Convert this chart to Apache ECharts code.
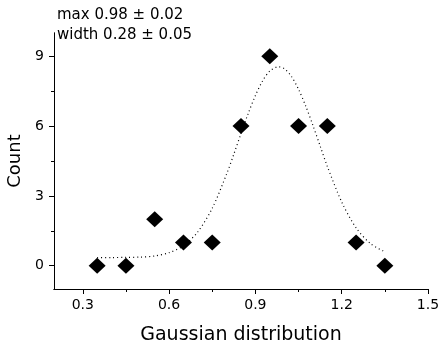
<!DOCTYPE html>
<html>
<head>
<meta charset="utf-8">
<script src="https://cdn.jsdelivr.net/npm/echarts@6/dist/echarts.min.js"></script>
<style>html,body{margin:0;padding:0;background:#fff}#c{width:440px;height:347px}</style>
</head>
<body>
<div id="c"></div>
<script>
// Measured counts
var binCenters = [0.35, 0.45, 0.55, 0.65, 0.75, 0.85, 0.95, 1.05, 1.15, 1.25, 1.35];
var counts = [0, 0, 2, 1, 1, 6, 9, 6, 6, 1, 0];
// Fit curve
var fitX = [0.35, 0.40, 0.45, 0.50, 0.55, 0.60, 0.65, 0.70, 0.75, 0.80, 0.825, 0.85, 0.875, 0.90, 0.925, 0.95, 0.98, 1.00, 1.025, 1.05, 1.075, 1.10, 1.125, 1.15, 1.20, 1.25, 1.30, 1.35];
var fitY = [0.35, 0.35, 0.36, 0.37, 0.42, 0.56, 0.86, 1.46, 2.47, 3.94, 4.79, 5.68, 6.54, 7.31, 7.94, 8.36, 8.55, 8.47, 8.14, 7.58, 6.86, 6.03, 5.15, 4.27, 2.74, 1.63, 0.95, 0.60];
// Ticks
var xMajor = [0.3, 0.6, 0.9, 1.2, 1.5];
var xMinor = [0.45, 0.75, 1.05, 1.35];
var yMajor = [0, 3, 6, 9];
var yMinor = [1.5, 4.5, 7.5];
var annotations = ['max 0.98 \u00b1 0.02', 'width 0.28 \u00b1 0.05'];

var FONT = '"DejaVu Sans", sans-serif';
var chart = echarts.init(document.getElementById('c'), null, {renderer: 'canvas'});

function axisBase(min, max) {
  return {
    type: 'value', min: min, max: max,
    axisLine: {show: true, onZero: false, lineStyle: {color: '#000', width: 1}},
    splitLine: {show: false}
  };
}
var xMain = Object.assign(axisBase(0.2, 1.5), {
  position: 'bottom',
  name: 'Gaussian distribution', nameLocation: 'middle', nameGap: 37,
  nameTextStyle: {fontFamily: FONT, fontSize: 19, color: '#000'},
  axisTick: {show: true, customValues: xMajor, length: 5, lineStyle: {color: '#000'}},
  axisLabel: {show: true, customValues: xMajor, margin: 9, fontFamily: FONT, fontSize: 14, color: '#000'}
});
var xMin = Object.assign(axisBase(0.2, 1.5), {
  position: 'bottom',
  axisTick: {show: true, customValues: xMinor, length: 3, lineStyle: {color: '#000'}},
  axisLabel: {show: false}
});
var yMain = Object.assign(axisBase(-1, 10), {
  position: 'left',
  name: 'Count', nameLocation: 'middle', nameGap: 29, nameRotate: 90,
  nameTextStyle: {fontFamily: FONT, fontSize: 18, color: '#000'},
  axisTick: {show: true, customValues: yMajor, length: 5, lineStyle: {color: '#000'}},
  axisLabel: {show: true, customValues: yMajor, margin: 10, fontFamily: FONT, fontSize: 14, color: '#000'}
});
var yMin = Object.assign(axisBase(-1, 10), {
  position: 'left',
  axisTick: {show: true, customValues: yMinor, length: 3, lineStyle: {color: '#000'}},
  axisLabel: {show: false}
});

chart.setOption({
  animation: false,
  backgroundColor: '#fff',
  grid: {left: 54, right: 12, top: 33, bottom: 58, containLabel: false, outerBoundsMode: 'none'},
  xAxis: [xMain, xMin],
  yAxis: [yMain, yMin],
  graphic: annotations.map(function (t, i) {
    return {type: 'text', x: 57, y: 15 + i * 20,
      style: {text: t, font: '15px ' + FONT, fill: '#000', verticalAlign: 'middle', align: 'left'}};
  }),
  series: [
    {type: 'line', xAxisIndex: 0, yAxisIndex: 0, smooth: 0.3, showSymbol: false, symbol: 'none',
      lineStyle: {color: '#000', width: 1.2, type: [1, 3]},
      data: fitX.map(function (x, i) { return [x, fitY[i]]; }), z: 2},
    {type: 'scatter', xAxisIndex: 0, yAxisIndex: 0, symbol: 'diamond', symbolSize: [17, 16],
      itemStyle: {color: '#000', opacity: 1},
      data: binCenters.map(function (x, i) { return [x, counts[i]]; }), z: 3}
  ]
});
</script>
</body>
</html>
